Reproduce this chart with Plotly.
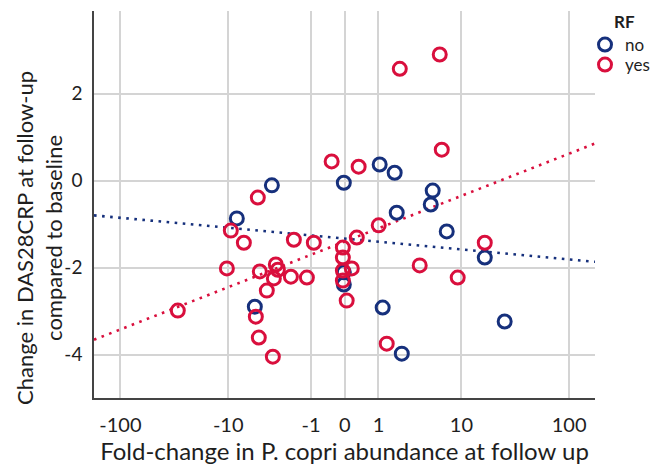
import numpy as np
import plotly.graph_objects as go

# ---- data (fold-change in P. copri abundance, change in DAS28CRP) ----
rf_no_fold = [-3.48, -8.21, -5.36, -0.02, -0.02, -0.02, 1.05, 1.79, 1.91,
              5.10, 4.86, 7.14, 1.18, 2.23, 16.8, 25.8]
rf_no_das = [-0.11, -0.87, -2.90, -0.05, -2.11, -2.39, 0.37, 0.18, -0.74,
             -0.23, -0.55, -1.17, -2.92, -3.98, -1.77, -3.24]

rf_yes_fold = [-4.98, -9.42, -6.97, -1.85, -0.89, -10.3, -4.74, -3.13, -2.96,
               -3.30, -2.03, -1.18, -3.97, -30.0, -5.23, -4.86, -3.39, -0.31,
               0.33, 0.28, 1.01, -0.04, -0.04, -0.04, -0.04, 0.155, 0.04,
               1.37, 3.67, 2.10, 6.05, 6.35, 16.8, 9.2]
rf_yes_das = [-0.39, -1.15, -1.43, -1.36, -1.43, -2.02, -2.09, -1.93, -2.05,
              -2.25, -2.21, -2.23, -2.53, -2.99, -3.13, -3.61, -4.05, 0.44,
              0.32, -1.31, -1.03, -1.54, -1.77, -2.07, -2.30, -2.02, -2.76,
              -3.75, -1.95, 2.57, 2.90, 0.71, -1.43, -2.23]

x_ticks = [-100, -10, -1, 0, 1, 10, 100]
x_tick_labels = ["-100", "-10", "-1", "0", "1", "10", "100"]
y_ticks = [-4, -2, 0, 2]
y_tick_labels = ["-4", "-2", "0", "2"]

BLUE = "#16307c"
RED = "#d90f3d"
FONT = "Lato"
TXT = "#1e1e1e"


def fc_scale(v):
    v = np.asarray(v, dtype=float)
    return np.sign(v) * np.log10(np.abs(v) + 1)


X_RANGE = [-2.24, 2.235]
Y_RANGE = [-5, 3.9]

fig = go.Figure()

# fit lines (linear fit in the displayed scale)
for xs, ys, col in [(rf_no_fold, rf_no_das, BLUE), (rf_yes_fold, rf_yes_das, RED)]:
    slope, icpt = np.polyfit(fc_scale(xs), np.asarray(ys), 1)
    xl = np.array(X_RANGE)
    fig.add_trace(go.Scatter(
        x=xl, y=icpt + slope * xl, mode="lines", showlegend=False,
        line=dict(color=col, width=2.6, dash="2.6px,5.5px"), hoverinfo="skip"))

for name, xs, ys, col, lg in [("no", rf_no_fold, rf_no_das, BLUE, "legend"),
                              ("yes", rf_yes_fold, rf_yes_das, RED, "legend2")]:
    fig.add_trace(go.Scatter(
        x=fc_scale(xs), y=ys, mode="markers", name=name, legend=lg,
        marker=dict(symbol="circle", size=13, color="rgba(0,0,0,0)",
                    line=dict(color=col, width=3))))

leg_common = dict(xref="container", yref="container", xanchor="left",
                  yanchor="top", font=dict(size=17, color=TXT), itemwidth=30,
                  bgcolor="rgba(0,0,0,0)")

fig.update_layout(
    width=652, height=470,
    margin=dict(l=94, r=57, t=11, b=72, autoexpand=False),
    paper_bgcolor="white", plot_bgcolor="white",
    font=dict(family=FONT, size=18, color=TXT),
    showlegend=True,
    legend=dict(x=585 / 652, y=1 - 27 / 470, **leg_common),
    legend2=dict(x=585 / 652, y=1 - 47 / 470, **leg_common),
    annotations=[
        dict(text="<b>RF</b>", xref="paper", yref="paper",
             x=(624 - 94) / 501, y=(398 - 21) / 387, xanchor="center",
             yanchor="middle", showarrow=False, font=dict(size=17, color=TXT)),
        dict(text="Change in DAS28CRP at follow-up<br>compared to baseline",
             xref="paper", yref="paper", x=(39 - 94) / 501, y=(398 - 238) / 387,
             xanchor="center", yanchor="middle", textangle=-90, showarrow=False,
             font=dict(size=22, color=TXT)),
    ],
)

fig.update_xaxes(
    range=X_RANGE, tickvals=fc_scale(x_ticks), ticktext=x_tick_labels,
    showgrid=True, gridcolor="#d4d4d4", gridwidth=1.5, zeroline=False,
    showline=True, linecolor="#444444", linewidth=1.5, ticks="",
    tickfont=dict(size=20), ticklabelstandoff=8,
    title=dict(text="Fold-change in P. copri abundance at follow up",
               font=dict(size=24), standoff=6))

fig.update_yaxes(
    range=Y_RANGE, tickvals=y_ticks, ticktext=y_tick_labels,
    showgrid=True, gridcolor="#d4d4d4", gridwidth=1.5, zeroline=False,
    showline=True, linecolor="#444444", linewidth=1.5, ticks="",
    tickfont=dict(size=19), ticklabelstandoff=6)

fig.write_html("out.html")
